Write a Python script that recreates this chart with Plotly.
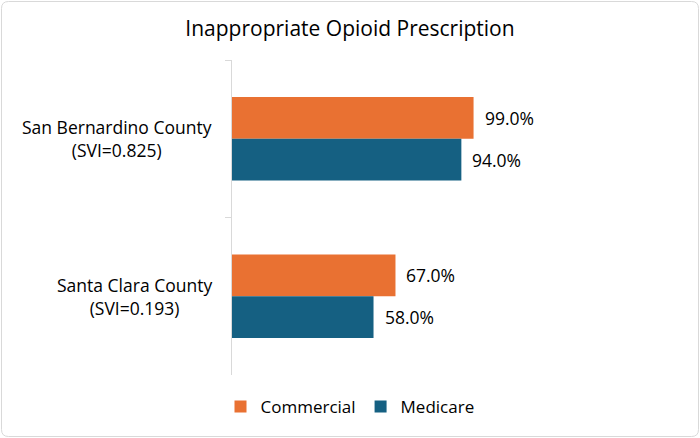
import plotly.graph_objects as go

categories = ["San Bernardino County<br>(SVI=0.825)", "Santa Clara County<br>(SVI=0.193)"]
commercial = [99.0, 67.0]
medicare = [94.0, 58.0]
series_names = ["Commercial", "Medicare"]
colors = ["#E97132", "#156082"]

W, H = 700, 438
ml, mr, mt, mb = 232, 20, 60, 63
BARGAP = 0.47

fig = go.Figure()
for name, vals, col in zip(series_names, [commercial, medicare], colors):
    fig.add_trace(go.Bar(
        y=categories, x=vals, name=name, orientation="h",
        marker=dict(color=col, line=dict(width=0)),
        cliponaxis=False,
    ))

pw = W - ml - mr
ph = H - mt - mb


def px(x):
    return (x - ml) / pw


def py(y):
    return 1 - (y - mt) / ph


# rounded border around the whole chart
L, R, T, B, r = 1.5, 698.5, 1.5, 436.5, 7
path = (f"M {px(L + r)},{py(T)} L {px(R - r)},{py(T)} Q {px(R)},{py(T)} {px(R)},{py(T + r)} "
        f"L {px(R)},{py(B - r)} Q {px(R)},{py(B)} {px(R - r)},{py(B)} "
        f"L {px(L + r)},{py(B)} Q {px(L)},{py(B)} {px(L)},{py(B - r)} "
        f"L {px(L)},{py(T + r)} Q {px(L)},{py(T)} {px(L + r)},{py(T)} Z")

annotations = []
for cat in categories:
    annotations.append(dict(text=cat, x=0, xref="paper", y=cat, yref="y",
                            xanchor="right", yanchor="middle", align="center",
                            xshift=-18, showarrow=False, font=dict(size=17.5, color="#000000")))
half = (1 - BARGAP) / 4
offsets = [-half, half]
for k, vals in enumerate([commercial, medicare]):
    for i, v in enumerate(vals):
        annotations.append(dict(text=f"{v:.1f}%", x=v, xref="x", y=i + offsets[k], yref="y",
                                xanchor="left", yanchor="middle", xshift=9, showarrow=False,
                                font=dict(size=17.5, color="#000000")))

fig.update_layout(
    width=W, height=H,
    margin=dict(l=ml, r=mr, t=mt, b=mb, autoexpand=False),
    paper_bgcolor="white", plot_bgcolor="white",
    font=dict(family="Open Sans", size=17, color="#000000"),
    title=dict(text="Inappropriate Opioid Prescription", x=0.5, xref="container",
               xanchor="center", y=1 - 29 / H, yref="container", yanchor="middle",
               font=dict(size=21, color="#000000")),
    barmode="group", bargap=BARGAP, bargroupgap=0,
    showlegend=True,
    legend=dict(orientation="h", x=0.5, xref="container", xanchor="center",
                y=1 - 407 / H, yref="container", yanchor="middle",
                font=dict(size=17), traceorder="normal"),
    xaxis=dict(range=[0, pw / 2.44], visible=False, showgrid=False, zeroline=False,
               automargin=False),
    yaxis=dict(autorange="reversed", showline=True, linecolor="#D9D9D9", linewidth=1,
               ticks="outside", tickson="boundaries", ticklen=6, tickcolor="#D9D9D9",
               showgrid=False, showticklabels=False, automargin=False),
    annotations=annotations,
    shapes=[dict(type="path", xref="paper", yref="paper", path=path,
                 line=dict(color="#D9D9D9", width=1), layer="below")],
)

fig.write_html("out.html", config={"displayModeBar": False},
               post_script="document.body.style.margin='0';document.body.style.padding='0';")
